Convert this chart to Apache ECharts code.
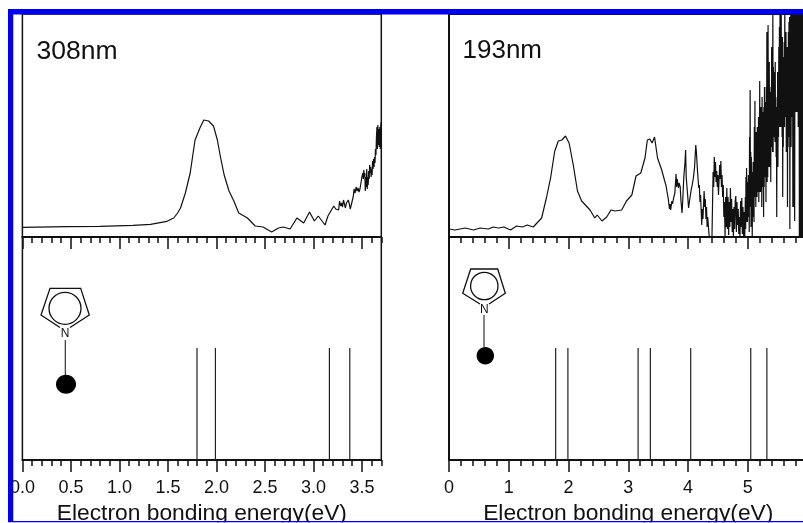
<!DOCTYPE html>
<html><head><meta charset="utf-8">
<style>html,body{margin:0;padding:0;background:#fff}#c{width:803px;height:523px}</style>
<script src="https://cdn.jsdelivr.net/npm/echarts@6/dist/echarts.min.js"></script>
</head><body><div id="c"></div>
<script>
var spectrum308 = [[0,9.7],[0.46,10.3],[0.80,10.7],[1.14,11.7],[1.32,12.7],[1.49,15.7],[1.56,19],[1.60,24],[1.63,29],[1.68,44],[1.73,64],[1.76,84],[1.78,97],[1.83,109],[1.87,117],[1.92,116],[1.97,111],[2.01,97],[2.04,81],[2.08,62],[2.13,46],[2.18,36],[2.23,24],[2.32,19],[2.40,11],[2.48,10],[2.57,5],[2.64,9],[2.69,10],[2.76,8],[2.83,19],[2.90,14],[2.96,25],[3.01,16],[3.05,21],[3.12,12],[3.15,21],[3.21,31],[3.23,28],[3.25,30],[3.26,27],[3.27,36],[3.28,31],[3.29,34],[3.30,30],[3.31,37],[3.32,33],[3.33,29],[3.34,34],[3.35,32],[3.36,37],[3.37,33],[3.38,28],[3.39,32],[3.40,33],[3.41,40],[3.42,48],[3.43,44],[3.44,50],[3.45,46],[3.46,49],[3.47,45],[3.48,48],[3.49,54],[3.50,60],[3.51,64],[3.515,58],[3.52,67],[3.525,60],[3.53,64],[3.535,46],[3.54,60],[3.545,50],[3.55,68],[3.555,48],[3.56,60],[3.565,52],[3.57,66],[3.575,58],[3.58,72],[3.585,64],[3.59,70],[3.595,60],[3.60,68],[3.605,62],[3.61,76],[3.615,68],[3.62,78],[3.625,70],[3.63,80],[3.635,74],[3.64,88],[3.645,82],[3.65,100],[3.655,110],[3.66,88],[3.665,112],[3.67,92],[3.675,108],[3.68,90],[3.685,110],[3.69,88],[3.695,112],[3.70,115]];
var spectrum193 = [[0,8],[0.10,7],[0.27,9],[0.41,7],[0.52,9],[0.66,8],[0.74,10],[0.83,9],[0.92,10],[1.03,7],[1.13,11],[1.23,10],[1.31,12],[1.41,10],[1.55,19],[1.63,39],[1.70,59],[1.77,86],[1.83,96],[1.89,97],[1.95,101],[2.01,94],[2.08,72],[2.15,46],[2.22,36],[2.36,27],[2.44,19],[2.48,22],[2.56,16],[2.64,20],[2.71,27],[2.78,26],[2.89,27],[2.97,36],[3.06,42],[3.13,61],[3.21,64],[3.28,79],[3.32,97],[3.36,98],[3.40,94],[3.44,100],[3.49,79],[3.56,67],[3.61,56],[3.63,52],[3.65,50],[3.67,38],[3.69,28],[3.70,33],[3.71,27],[3.73,36],[3.74,33],[3.76,39],[3.78,44],[3.80,63],[3.81,50],[3.82,58],[3.84,49],[3.85,54],[3.87,50],[3.88,38],[3.90,24],[3.91,34],[3.93,60],[3.95,75],[3.96,87],[3.97,60],[3.99,45],[4.01,29],[4.03,38],[4.05,46],[4.07,52],[4.09,59],[4.11,70],[4.13,92],[4.14,85],[4.16,65],[4.18,49],[4.19,52],[4.20,35],[4.21,42],[4.23,12],[4.24,28],[4.25,18],[4.27,46],[4.28,30],[4.29,38],[4.30,18],[4.31,30],[4.32,10],[4.33,20],[4.36,-4],[4.40,-4],[4.41,30],[4.42,65],[4.43,50],[4.44,80],[4.45,60],[4.46,75],[4.47,55],[4.48,66],[4.49,50],[4.50,62],[4.51,42],[4.53,72],[4.54,58],[4.55,76],[4.56,50],[4.57,62],[4.58,40],[4.59,52],[4.60,20],[4.61,35],[4.62,1],[4.63,40],[4.64,10],[4.65,49],[4.66,8],[4.67,40],[4.68,2],[4.69,35],[4.70,10],[4.71,49],[4.72,15],[4.73,38],[4.74,5],[4.75,28],[4.76,-1],[4.77,30],[4.78,8],[4.79,36],[4.80,41],[4.81,5],[4.82,35],[4.83,12],[4.84,28],[4.85,3],[4.86,20],[4.87,-1],[4.88,36],[4.89,10],[4.90,39],[4.91,3],[4.92,30],[4.93,-1],[4.94,25],[4.95,-1],[4.96,40],[4.965,8],[4.97,60],[4.975,15],[4.98,69],[4.985,30],[4.99,55],[4.995,15],[5.00,50],[5.005,20],[5.01,62],[5.015,25],[5.02,45],[5.025,5],[5.03,100],[5.035,30],[5.04,147],[5.045,40],[5.05,85],[5.055,10],[5.06,80],[5.065,30],[5.07,65],[5.075,-2],[5.08,50],[5.085,20],[5.09,75],[5.095,30],[5.10,70],[5.105,15],[5.11,110],[5.115,40],[5.12,136],[5.125,45],[5.13,95],[5.135,30],[5.14,105],[5.145,50],[5.15,90],[5.155,40],[5.16,110],[5.165,45],[5.17,100],[5.175,50],[5.18,120],[5.185,35],[5.19,115],[5.195,45],[5.20,156],[5.205,60],[5.21,125],[5.215,45],[5.22,130],[5.225,60],[5.23,110],[5.235,30],[5.24,140],[5.245,50],[5.25,115],[5.255,60],[5.26,125],[5.265,20],[5.27,130],[5.275,50],[5.28,150],[5.285,70],[5.29,125],[5.295,60],[5.30,135],[5.305,35],[5.31,150],[5.315,65],[5.32,205],[5.325,55],[5.33,170],[5.335,60],[5.34,212],[5.345,90],[5.35,165],[5.355,70],[5.36,175],[5.365,100],[5.37,140],[5.375,70],[5.38,145],[5.385,55],[5.39,150],[5.395,90],[5.40,190],[5.405,110],[5.41,175],[5.415,85],[5.42,228],[5.425,85],[5.43,170],[5.435,100],[5.44,165],[5.445,120],[5.45,155],[5.455,95],[5.46,175],[5.465,95],[5.47,140],[5.475,80],[5.48,125],[5.485,20],[5.49,130],[5.495,70],[5.50,165],[5.505,70],[5.51,150],[5.515,100],[5.52,190],[5.525,120],[5.53,210],[5.535,110],[5.54,228],[5.545,150],[5.55,215],[5.555,110],[5.56,228],[5.565,130],[5.57,200],[5.575,100],[5.58,200],[5.585,40],[5.59,160],[5.595,90],[5.60,180],[5.605,115],[5.61,195],[5.615,110],[5.62,228],[5.625,160],[5.63,205],[5.635,120],[5.64,205],[5.645,85],[5.65,185],[5.655,100],[5.66,190],[5.665,30],[5.67,180],[5.675,90],[5.68,205],[5.685,100],[5.69,215],[5.695,120],[5.70,220],[5.705,8],[5.71,190],[5.715,100],[5.72,228],[5.725,90],[5.73,228],[5.735,130],[5.74,228],[5.745,120],[5.75,228],[5.755,30],[5.76,228],[5.765,120],[5.77,228],[5.775,30],[5.78,228],[5.785,16],[5.79,228],[5.795,125],[5.80,228],[5.805,125],[5.81,228],[5.815,130],[5.82,228],[5.825,125],[5.83,228],[5.835,130],[5.84,228],[5.845,110],[5.85,228],[5.855,120],[5.86,228],[5.864,-3],[5.868,228],[5.872,-3],[5.876,228],[5.88,-3],[5.884,228],[5.888,-3],[5.892,228],[5.896,-3],[5.90,228],[5.904,-3],[5.908,228],[5.912,-3],[5.916,228],[5.92,-3],[5.924,228],[5.93,-3]];
var sticks308 = [1.80,1.99,3.165,3.375];
var sticks193 = [1.785,1.99,3.165,3.37,4.045,5.05,5.32];
var stickHeight = 112;
var minorTicks308 = [0,0.1,0.2,0.3,0.4,0.5,0.6,0.7,0.8,0.9,1.0,1.1,1.2,1.3,1.4,1.5,1.6,1.7,1.8,1.9,2.0,2.1,2.2,2.3,2.4,2.5,2.6,2.7,2.8,2.9,3.0,3.1,3.2,3.3,3.4,3.5,3.6,3.7];
var majorTicks308 = [0,0.5,1.0,1.5,2.0,2.5,3.0,3.5];
var minorTicks193 = [0,0.2,0.4,0.6,0.8,1,1.2,1.4,1.6,1.8,2,2.2,2.4,2.6,2.8,3,3.2,3.4,3.6,3.8,4,4.2,4.4,4.6,4.8,5,5.2,5.4,5.6,5.8,6];
var majorTicks193 = [0,1,2,3,4,5,6];
var xTitle = 'Electron bonding energy(eV)';

var FONT = '"Liberation Sans", Arial, sans-serif';
var INK = '#111';
var panelL = {left:22.4, width:358.9, lw:1.5};
var panelR = {left:449, width:358.5, lw:2};
var topY = {top:14, height:223};
var botY = {top:237, height:223};

function grid(p, y) {
  return {left:p.left, width:p.width, top:y.top, height:y.height, show:true, outerBoundsMode:'none',
    borderColor:INK, borderWidth:p.lw, backgroundColor:'transparent'};
}
function xax(idx, max, values, len, lw, title, fmt) {
  var o = {type:'value', gridIndex:idx, position:'bottom', min:0, max:max,
    splitLine:{show:false},
    axisLine:{show:true, onZero:false, lineStyle:{color:INK, width:lw}},
    axisTick:{show:true, length:len, customValues:values, lineStyle:{color:INK, width:1.5}},
    axisLabel:{show:false}};
  if (fmt) {
    o.axisLabel = {show:true, customValues:values, hideOverlap:false, showMinLabel:true, showMaxLabel:true,
      margin:19, fontSize:18, fontFamily:FONT, color:'#111', formatter:fmt};
  }
  if (title) {
    o.name = title; o.nameLocation = 'middle'; o.nameGap = 42;
    o.nameTextStyle = {fontSize:22.8, fontFamily:FONT, color:'#111'};
  }
  return o;
}
function yax(idx) {
  return {type:'value', gridIndex:idx, min:0, max:223, show:false, splitLine:{show:false}};
}
function lineSeries(xi, yi, data) {
  return {type:'line', xAxisIndex:xi, yAxisIndex:yi, data:data, showSymbol:false, symbol:'none',
    smooth:false, animation:false, clip:true, sampling:null, lineStyle:{color:INK, width:1.2}};
}
function stickSeries(xi, yi, xs) {
  return {type:'bar', xAxisIndex:xi, yAxisIndex:yi, barWidth:1.2, animation:false,
    data:xs.map(function(x){return [x, stickHeight];}), itemStyle:{color:'#222'}};
}
function molecule(pts, ring, nPos, bond, ball) {
  var s = {stroke:'#111', lineWidth:1.3, fill:null};
  return [
    {type:'polyline', z:50, shape:{points:pts}, style:s},
    {type:'circle', z:50, shape:{cx:ring[0], cy:ring[1], r:ring[2]}, style:s},
    {type:'text', z:50, style:{text:'N', x:nPos[0], y:nPos[1], font:'12px '+FONT, fill:'#111', align:'center', verticalAlign:'middle'}},
    {type:'line', z:50, shape:{x1:bond[0], y1:bond[1], x2:bond[0], y2:bond[2]}, style:{stroke:'#222', lineWidth:1.1}},
    {type:'ellipse', z:50, shape:{cx:ball[0], cy:ball[1], rx:ball[2], ry:ball[3]}, style:{fill:'#000'}}
  ];
}
function box(x, y, w, h, c) {
  return {type:'rect', z:100, shape:{x:x, y:y, width:w, height:h}, style:{fill:c}};
}
var BLUE = '#0000f0';
var graphics = [].concat(
  molecule([[60,327.5],[41,315],[50,288.3],[80.7,288.3],[89.3,315],[70,327.5]], [65,308.3,16], [65,334], [65.3,340,377], [66,384.3,10,9.5]),
  molecule([[480,304],[462.7,293.3],[470.7,269],[497.7,269],[505.3,293.3],[489,304]], [484.3,286,13.7], [484.3,310], [484,315,347], [485.3,355.7,8.7,8.7]),
  [
    {type:'text', z:60, style:{text:'308nm', x:36.5, y:52, font:'26.5px '+FONT, fill:'#111', verticalAlign:'middle'}},
    {type:'text', z:60, style:{text:'193nm', x:462.5, y:51, font:'26px '+FONT, fill:'#111', verticalAlign:'middle'}},
    box(0,0,803,9,'#fff'), box(0,0,8,523,'#fff'),
    box(8,9,795,5.5,BLUE), box(8,9,5.3,513,BLUE),
    box(8,521,795,1.4,BLUE), box(0,522.4,803,1,'#fff')
  ]
);

var chart = echarts.init(document.getElementById('c'), null, {renderer:'canvas'});
chart.setOption({
  animation:false,
  grid:[grid(panelL,topY), grid(panelL,botY), grid(panelR,topY), grid(panelR,botY)],
  xAxis:[
    xax(0,3.7,minorTicks308,6,1.5), xax(0,3.7,majorTicks308,12,1.5),
    xax(1,3.7,minorTicks308,6,1.5), xax(1,3.7,majorTicks308,12,1.5,xTitle,function(v){return v.toFixed(1);}),
    xax(2,6,minorTicks193,6,1.5), xax(2,6,majorTicks193,12,1.5),
    xax(3,6,minorTicks193,6,2), xax(3,6,majorTicks193,12,2,xTitle,function(v){return String(v);})
  ],
  yAxis:[yax(0),yax(1),yax(2),yax(3)],
  series:[
    lineSeries(0,0,spectrum308),
    stickSeries(2,1,sticks308),
    lineSeries(4,2,spectrum193),
    stickSeries(6,3,sticks193)
  ],
  graphic:{elements:graphics}
});
</script>
</body></html>
